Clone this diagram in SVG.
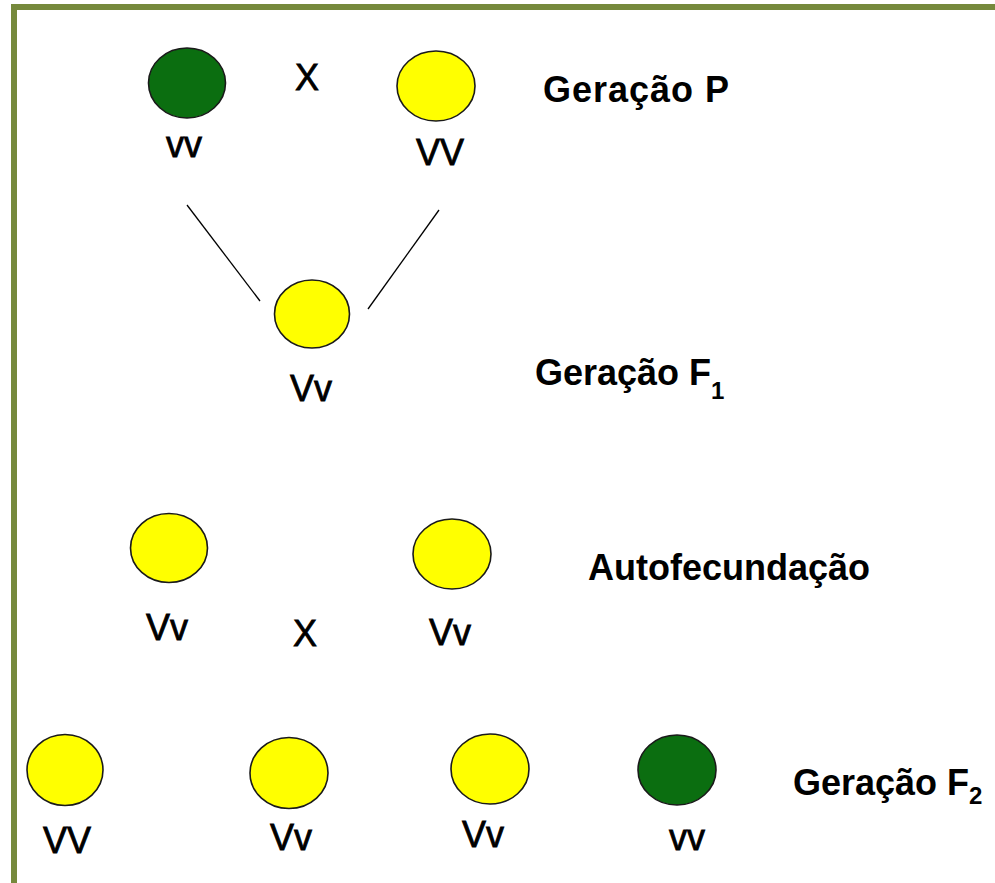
<svg xmlns="http://www.w3.org/2000/svg" width="995" height="883" viewBox="0 0 995 883">
<style>
.y{fill:#ffff00;stroke:#1a1a1a;stroke-width:1.6}
.g{fill:#0b6e10;stroke:#1a1a1a;stroke-width:1.6}
.t{font-family:"Liberation Sans",Arial,sans-serif;font-size:36px;fill:#000;stroke:#000;stroke-width:0.8;text-anchor:middle}
.b{font-family:"Liberation Sans",Arial,sans-serif;font-size:36px;font-weight:bold;fill:#000}
.s{font-size:24px}
</style>
<rect width="995" height="883" fill="#fff"/>
<path d="M14 883 V7 H995" fill="none" stroke="#76893c" stroke-width="6"/>
<g id="connectors" stroke="#000" stroke-width="1.3">
<line x1="187" y1="205" x2="260" y2="301"/>
<line x1="439" y1="210" x2="368" y2="309"/>
</g>
<g id="p-green"><ellipse class="g" cx="187" cy="83" rx="38.5" ry="35"/><text class="t" x="184" y="157">vv</text></g>
<g id="p-cross"><text class="t" x="307" y="90">X</text></g>
<g id="p-yellow"><ellipse class="y" cx="436" cy="86" rx="39" ry="35"/><text class="t" x="440" y="165">VV</text></g>
<g id="label-p"><text class="b" x="543" y="102" textLength="186">Geração P</text></g>
<g id="f1"><ellipse class="y" cx="312" cy="314" rx="37.5" ry="34"/><text class="t" x="311" y="401">Vv</text></g>
<g id="label-f1"><text class="b" x="535" y="385">Geração F<tspan class="s" dy="14">1</tspan></text></g>
<g id="auto-left"><ellipse class="y" cx="169" cy="548" rx="38.5" ry="34.5"/><text class="t" x="167" y="640">Vv</text></g>
<g id="auto-cross"><text class="t" x="305" y="646">X</text></g>
<g id="auto-right"><ellipse class="y" cx="452" cy="554" rx="39" ry="35"/><text class="t" x="450" y="645">Vv</text></g>
<g id="label-auto"><text class="b" x="588" y="580">Autofecundação</text></g>
<g id="f2-1"><ellipse class="y" cx="65" cy="770" rx="38" ry="35.5"/><text class="t" x="67" y="853">VV</text></g>
<g id="f2-2"><ellipse class="y" cx="289" cy="773" rx="39" ry="35.5"/><text class="t" x="291" y="850">Vv</text></g>
<g id="f2-3"><ellipse class="y" cx="490" cy="769" rx="39" ry="35"/><text class="t" x="483" y="847">Vv</text></g>
<g id="f2-4"><ellipse class="g" cx="677" cy="770" rx="39" ry="35"/><text class="t" x="687" y="850">vv</text></g>
<g id="label-f2"><text class="b" x="793" y="795">Geração F<tspan class="s" dy="9">2</tspan></text></g>
</svg>
